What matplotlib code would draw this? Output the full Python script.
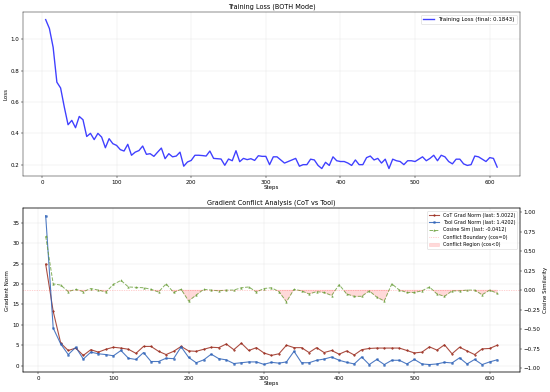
import numpy as np
import matplotlib
matplotlib.use("Agg")
import matplotlib.pyplot as plt

# ---- Training loss (every 5 steps) ----
loss_steps = list(range(5, 615, 5))
loss_values = [
    1.127, 1.07, 0.95, 0.727, 0.69, 0.567, 0.455, 0.483, 0.436, 0.508,
    0.487, 0.38, 0.40, 0.36, 0.40, 0.376, 0.308, 0.366, 0.334, 0.323,
    0.296, 0.287, 0.33, 0.26, 0.28, 0.29, 0.319, 0.266, 0.27, 0.253,
    0.28, 0.306, 0.238, 0.27, 0.25, 0.255, 0.28, 0.19, 0.217, 0.227,
    0.26, 0.26, 0.258, 0.255, 0.287, 0.24, 0.238, 0.236, 0.196, 0.236,
    0.225, 0.289, 0.219, 0.24, 0.232, 0.238, 0.227, 0.257, 0.253, 0.253,
    0.20, 0.25, 0.25, 0.23, 0.21, 0.22, 0.23, 0.24, 0.19, 0.20,
    0.20, 0.235, 0.23, 0.195, 0.175, 0.215, 0.195, 0.25, 0.225, 0.22,
    0.22, 0.21, 0.195, 0.23, 0.20, 0.20, 0.245, 0.255, 0.23, 0.24,
    0.21, 0.235, 0.175, 0.235, 0.225, 0.22, 0.20, 0.225, 0.225, 0.22,
    0.235, 0.25, 0.225, 0.24, 0.26, 0.225, 0.26, 0.25, 0.22, 0.205,
    0.235, 0.235, 0.205, 0.195, 0.20, 0.255, 0.25, 0.235, 0.22, 0.245,
    0.24, 0.1843,
]

# ---- Gradient conflict (every 10 steps) ----
grad_steps = list(range(10, 620, 10))
cot_norm = [
    24.9, 13.3, 5.5, 3.7, 4.3, 2.5, 3.9, 3.3, 4.0, 4.5,
    4.3, 4.0, 3.0, 4.7, 4.7, 3.5, 2.7, 3.5, 4.7, 3.6,
    3.5, 4.0, 4.5, 4.4, 5.3, 3.9, 5.5, 3.7, 4.4, 3.1,
    2.5, 2.9, 5.0, 4.4, 4.4, 3.2, 4.4, 3.2, 3.7, 2.8,
    3.6, 2.6, 3.9, 4.2, 4.3, 4.3, 4.3, 4.3, 3.7, 3.1,
    3.3, 4.6, 3.8, 5.1, 2.9, 4.5, 3.6, 2.7, 4.1, 4.2,
    5.0022,
]
tool_norm = [
    36.8, 9.2, 5.3, 2.7, 4.5, 1.6, 3.3, 2.9, 2.7, 2.4,
    3.7, 1.8, 1.5, 3.2, 1.0, 1.0, 1.8, 1.7, 4.6, 2.0,
    0.7, 1.4, 2.8, 1.7, 1.4, 0.5, 0.7, 0.9, 0.9, 0.3,
    0.8, 0.6, 0.9, 3.5, 0.7, 0.7, 1.3, 1.6, 2.1, 1.3,
    0.8, 0.4, 2.1, 0.25, 1.5, 0.25, 1.3, 1.3, 0.4, 1.5,
    0.4, 0.25, 0.4, 0.8, 0.65, 1.9, 0.4, 1.5, 0.25, 0.9,
    1.4202,
]
cos_sim = [
    0.69, 0.08, 0.064, -0.02, 0.01, -0.02, 0.02, 0.0, -0.025, 0.073,
    0.124, 0.04, 0.035, 0.03, 0.01, -0.025, 0.08, -0.03, 0.01, -0.14,
    -0.064, 0.01, 0.0, -0.01, 0.0, 0.0, 0.03, 0.04, -0.025, 0.02,
    0.03, -0.02, -0.15, 0.01, -0.01, -0.05, -0.02, -0.03, -0.07, 0.07,
    -0.05, -0.08, -0.08, -0.01, -0.09, -0.14, 0.08, 0.0, -0.03, -0.03,
    -0.01, 0.04, -0.05, -0.08, -0.01, -0.01, 0.0, 0.0, -0.06, 0.0,
    -0.0412,
]

DPI = 550 / 14
fig = plt.figure(figsize=(14, 392 / DPI), dpi=DPI)

# ---------- Top: training loss ----------
ax = fig.add_axes([0.042, 0.551, 0.903, 0.418])
ax.plot(loss_steps, loss_values, color="blue", alpha=0.75, linewidth=2.5,
        label=f"Training Loss (final: {loss_values[-1]:.4f})")
ax.set_title("Training Loss (BOTH Mode)", fontsize=12)
ax.set_xlabel("Steps", fontsize=10, labelpad=1)
ax.set_ylabel("Loss", fontsize=10)
ax.grid(True, alpha=0.3)
ax.legend(loc="upper right", fontsize=10)

# ---------- Bottom: gradient conflict ----------
ax1 = fig.add_axes([0.042, 0.051, 0.903, 0.418])
l1, = ax1.plot(grad_steps, cot_norm, color="#9b2d1f", marker="o", markersize=3,
               linewidth=2, alpha=0.85, label=f"CoT Grad Norm (last: {cot_norm[-1]:.4f})")
l2, = ax1.plot(grad_steps, tool_norm, color="#2f63b8", marker="s", markersize=3,
               linewidth=2, alpha=0.85, label=f"Tool Grad Norm (last: {tool_norm[-1]:.4f})")
ax1.set_xlabel("Steps", fontsize=10, labelpad=1)
ax1.set_ylabel("Gradient Norm", fontsize=10)
ax1.set_title("Gradient Conflict Analysis (CoT vs Tool)", fontsize=12)
ax1.grid(True, alpha=0.3)

ax2 = ax1.twinx()
cs = np.array(cos_sim)
l3, = ax2.plot(grad_steps, cos_sim, color="#6a9f3a", linestyle="--", marker="^",
               markersize=3, linewidth=1.8, alpha=0.8,
               label=f"Cosine Sim (last: {cos_sim[-1]:.4f})")
l4 = ax2.axhline(0, color="red", linestyle=":", linewidth=1.2, alpha=0.4,
                 label="Conflict Boundary (cos=0)")
f1 = ax2.fill_between(grad_steps, cs, 0, where=cs < 0, interpolate=True,
                      color="red", alpha=0.15, label="Conflict Region (cos<0)")
ax2.set_ylim(-1.05, 1.05)
ax2.set_ylabel("Cosine Similarity", fontsize=10)

ax2.legend(handles=[l1, l2, l3, l4, f1], loc="upper right", fontsize=9)

fig.savefig("out.png", dpi=DPI)
